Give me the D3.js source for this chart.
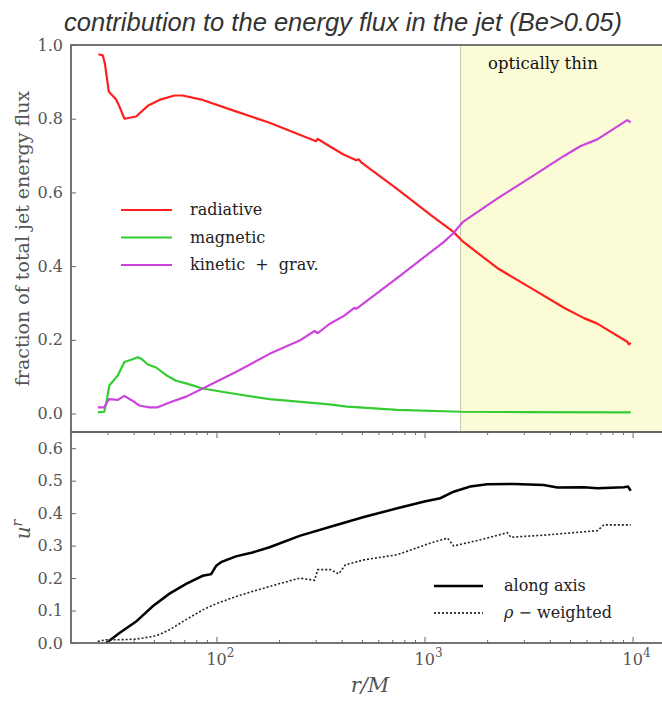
<!DOCTYPE html>
<html>
<head>
<meta charset="utf-8">
<script src="https://cdn.jsdelivr.net/npm/d3@7"></script>
<style>
  body { margin: 0; background: #fff; }
  svg { display: block; }
  .tick text { font-family: "DejaVu Serif", serif; font-size: 16px; fill: #555; }
</style>
</head>
<body>
<div id="canvas"></div>
<script>
// radiative / magnetic / kinetic+grav fractions (top panel)
const radR = [27.1, 28.4, 29.1, 30.4, 32.9, 34.2, 36.1, 41.1, 46.8, 53.2, 62.8, 68.8, 85.9, 124, 180, 301, 307, 353, 408, 470, 482, 500, 740, 1069, 1377, 1520, 2235, 3237, 4680, 5840, 6770, 9420, 9600, 9800];
const radV = [0.975, 0.972, 0.95, 0.873, 0.853, 0.833, 0.80, 0.806, 0.835, 0.851, 0.863, 0.863, 0.851, 0.82, 0.789, 0.739, 0.745, 0.724, 0.703, 0.687, 0.690, 0.680, 0.609, 0.539, 0.493, 0.468, 0.395, 0.341, 0.287, 0.259, 0.244, 0.195, 0.188, 0.192];

const magR = [26.9, 28.9, 29.6, 30.6, 32.3, 33.6, 36.1, 38.9, 41.9, 43.5, 46.8, 51.3, 57.4, 64.0, 71.5, 85.9, 124, 180, 349, 425, 740, 1490, 3000, 9800];
const magV = [0.003, 0.005, 0.032, 0.077, 0.092, 0.104, 0.14, 0.146, 0.153, 0.149, 0.133, 0.125, 0.104, 0.089, 0.082, 0.068, 0.053, 0.039, 0.025, 0.019, 0.010, 0.005, 0.004, 0.003];

const kinR = [26.9, 28.9, 30.4, 33.6, 36.1, 38.9, 42.6, 47.6, 52.2, 59.5, 71.5, 85.9, 124, 180, 251, 296, 307, 349, 410, 460, 470, 740, 1240, 1380, 1450, 1530, 2235, 3237, 4680, 5630, 6770, 9420, 9800];
const kinV = [0.017, 0.017, 0.039, 0.037, 0.048, 0.037, 0.022, 0.017, 0.017, 0.03, 0.046, 0.068, 0.113, 0.162, 0.198, 0.224, 0.218, 0.243, 0.265, 0.287, 0.284, 0.368, 0.466, 0.49, 0.505, 0.52, 0.583, 0.641, 0.699, 0.726, 0.744, 0.796, 0.79];

// u^r (bottom panel)
const axisR = [29.5, 34.2, 41.1, 49.4, 59.5, 71.5, 85.9, 94.3, 99.7, 105.3, 124, 149, 180, 251, 353, 511, 740, 1000, 1190, 1380, 1660, 2000, 2700, 3740, 4350, 5840, 6770, 9070, 9500, 9800];
const axisV = [0.0, 0.031, 0.066, 0.113, 0.152, 0.182, 0.207, 0.212, 0.238, 0.249, 0.267, 0.279, 0.295, 0.33, 0.358, 0.388, 0.415, 0.436, 0.446, 0.466, 0.482, 0.489, 0.49, 0.487, 0.479, 0.48, 0.477, 0.48, 0.482, 0.469];

const rhoR = [26.9, 29.5, 34.2, 41.1, 49.4, 53.2, 59.5, 71.5, 85.9, 99.7, 124, 149, 180, 251, 296, 307, 353, 387, 417, 511, 740, 1070, 1290, 1380, 1860, 2500, 2600, 3880, 6770, 7290, 9800];
const rhoV = [0.005, 0.01, 0.01, 0.012, 0.02, 0.026, 0.041, 0.072, 0.102, 0.121, 0.143, 0.159, 0.174, 0.2, 0.193, 0.226, 0.226, 0.213, 0.241, 0.256, 0.272, 0.308, 0.323, 0.299, 0.318, 0.34, 0.326, 0.333, 0.346, 0.364, 0.364];

const thinStart = 1490;
const topTicks = [0.0, 0.2, 0.4, 0.6, 0.8, 1.0];
const botTicks = [0.0, 0.1, 0.2, 0.3, 0.4, 0.5, 0.6];
const xMajor = [100, 1000, 10000];

const W = 662, H = 702;
const left = 71, right = 663;
const topY0 = 45, split = 432, botY1 = 643;
const serif = "DejaVu Serif, serif";

const svg = d3.select("#canvas").append("svg")
  .attr("width", W)
  .attr("height", H);

const x = d3.scaleLog().domain([20, 14000]).range([left, right]);
const yTop = d3.scaleLinear().domain([-0.05, 1.0]).range([split, topY0]);
const yBot = d3.scaleLinear().domain([0, 0.65]).range([botY1, split]);

const zip = (a, b) => a.map((r, i) => [r, b[i]]);

// optically thin shading
svg.append("rect")
  .attr("x", x(thinStart))
  .attr("y", topY0)
  .attr("width", W - x(thinStart))
  .attr("height", split - topY0)
  .attr("fill", "#fbfbd6");
svg.append("line")
  .attr("x1", x(thinStart)).attr("x2", x(thinStart))
  .attr("y1", topY0).attr("y2", split)
  .attr("stroke", "#c8c8b4").attr("stroke-width", 1);

svg.append("text")
  .attr("x", 488).attr("y", 69)
  .style("font-family", serif)
  .style("font-size", "16.5px")
  .style("fill", "#111")
  .text("optically thin");

// top panel lines
const lineTop = d3.line().x(d => x(d[0])).y(d => yTop(d[1]));
const lineBot = d3.line().x(d => x(d[0])).y(d => yBot(d[1]));

const topSeries = [
  { name: "radiative", color: "#ff1f1f", data: zip(radR, radV) },
  { name: "magnetic", color: "#33cc33", data: zip(magR, magV) },
  { name: "kinetic  +  grav.", color: "#cc44dd", data: zip(kinR, kinV) }
];

// draw magnetic first so radiative/kinetic sit above
[topSeries[1], topSeries[0], topSeries[2]].forEach(s => {
  svg.append("path")
    .datum(s.data)
    .attr("d", lineTop)
    .attr("fill", "none")
    .attr("stroke", s.color)
    .attr("stroke-width", 2.2)
    .attr("stroke-linejoin", "round");
});

// bottom panel lines
svg.append("path")
  .datum(zip(axisR, axisV))
  .attr("d", lineBot)
  .attr("fill", "none")
  .attr("stroke", "#000")
  .attr("stroke-width", 2.5);

svg.append("path")
  .datum(zip(rhoR, rhoV))
  .attr("d", lineBot)
  .attr("fill", "none")
  .attr("stroke", "#222")
  .attr("stroke-width", 1.6)
  .attr("stroke-dasharray", "2,2");

// axes
const axisColor = "#666";
function styleAxis(g) {
  g.select(".domain").remove();
  g.selectAll(".tick line").attr("stroke", axisColor).attr("stroke-width", 1);
}

svg.append("g")
  .attr("transform", `translate(${left},0)`)
  .call(d3.axisLeft(yTop).tickValues(topTicks).tickFormat(d3.format(".1f")).tickSize(-5).tickPadding(8))
  .call(styleAxis);

svg.append("g")
  .attr("transform", `translate(${left},0)`)
  .call(d3.axisLeft(yBot).tickValues(botTicks).tickFormat(d3.format(".1f")).tickSize(-5).tickPadding(8))
  .call(styleAxis);

const minorTicks = [];
[10, 100, 1000, 10000].forEach(p => {
  for (let k = 2; k <= 9; k++) {
    const v = p * k;
    if (v > 20 && v < 14000) minorTicks.push(v);
  }
});

// bottom edge ticks (pointing up)
svg.append("g")
  .attr("transform", `translate(0,${botY1})`)
  .call(d3.axisBottom(x).tickValues(minorTicks).tickFormat("").tickSize(-3))
  .call(styleAxis);
svg.append("g")
  .attr("transform", `translate(0,${botY1})`)
  .call(d3.axisBottom(x).tickValues(xMajor).tickFormat("").tickSize(-6))
  .call(styleAxis);

// top edge ticks of bottom panel (pointing down)
svg.append("g")
  .attr("transform", `translate(0,${split})`)
  .call(d3.axisTop(x).tickValues(minorTicks).tickFormat("").tickSize(-3))
  .call(styleAxis);
svg.append("g")
  .attr("transform", `translate(0,${split})`)
  .call(d3.axisTop(x).tickValues(xMajor).tickFormat("").tickSize(-6))
  .call(styleAxis);

// x tick labels as 10^n
xMajor.forEach(v => {
  const t = svg.append("text")
    .attr("x", x(v) + 4)
    .attr("y", 665)
    .attr("text-anchor", "middle")
    .style("font-family", serif)
    .style("font-size", "16px")
    .style("fill", "#555");
  t.append("tspan").text("10");
  t.append("tspan").attr("dy", -8).style("font-size", "12px").text(Math.round(Math.log10(v)));
});

// frames
svg.append("rect")
  .attr("x", left).attr("y", topY0)
  .attr("width", W + 10 - left).attr("height", split - topY0)
  .attr("fill", "none").attr("stroke", axisColor).attr("stroke-width", 1.8);
svg.append("rect")
  .attr("x", left).attr("y", split)
  .attr("width", W + 10 - left).attr("height", botY1 - split)
  .attr("fill", "none").attr("stroke", axisColor).attr("stroke-width", 1.8);

// title
svg.append("text")
  .attr("x", 343).attr("y", 31)
  .attr("text-anchor", "middle")
  .style("font-family", "Liberation Sans, sans-serif")
  .style("font-style", "italic")
  .style("font-size", "25.5px")
  .style("fill", "#333")
  .text("contribution to the energy flux in the jet (Be>0.05)");

// axis labels
svg.append("text")
  .attr("transform", `translate(29,${(topY0 + split) / 2}) rotate(-90)`)
  .attr("text-anchor", "middle")
  .style("font-family", serif)
  .style("font-size", "19px")
  .style("fill", "#555")
  .text("fraction of total jet energy flux");

const ul = svg.append("text")
  .attr("transform", `translate(30,${(split + botY1) / 2 - 8}) rotate(-90)`)
  .attr("text-anchor", "middle")
  .style("font-family", serif)
  .style("font-size", "20px")
  .style("fill", "#555");
ul.append("tspan").style("font-style", "italic").text("u");
ul.append("tspan").attr("dy", -8).style("font-size", "14px").style("font-style", "italic").text("r");

svg.append("text")
  .attr("x", 370).attr("y", 692)
  .attr("text-anchor", "middle")
  .style("font-family", serif)
  .style("font-style", "italic")
  .style("font-size", "21px")
  .style("fill", "#555")
  .text("r/M");

// top legend
topSeries.forEach((s, i) => {
  const yy = 210 + i * 27.5;
  svg.append("line")
    .attr("x1", 121).attr("x2", 172)
    .attr("y1", yy).attr("y2", yy)
    .attr("stroke", s.color).attr("stroke-width", 2.2);
  svg.append("text")
    .attr("x", 190).attr("y", yy + 5)
    .style("font-family", serif)
    .style("font-size", "16px")
    .style("fill", "#222")
    .style("white-space", "pre")
    .text(s.name);
});

// bottom legend
const botLegend = [
  { dash: null, width: 2.5 },
  { dash: "2,2", width: 1.6 }
];
botLegend.forEach((s, i) => {
  const yy = 586 + i * 27;
  svg.append("line")
    .attr("x1", 434).attr("x2", 483)
    .attr("y1", yy).attr("y2", yy)
    .attr("stroke", "#000").attr("stroke-width", s.width)
    .attr("stroke-dasharray", s.dash);
});
svg.append("text")
  .attr("x", 504).attr("y", 591)
  .style("font-family", serif)
  .style("font-size", "16px")
  .style("fill", "#222")
  .text("along axis");
const rw = svg.append("text")
  .attr("x", 504).attr("y", 618)
  .style("font-family", serif)
  .style("font-size", "16px")
  .style("fill", "#222");
rw.append("tspan").style("font-style", "italic").text("ρ");
rw.append("tspan").text(" − weighted");
</script>
</body>
</html>
